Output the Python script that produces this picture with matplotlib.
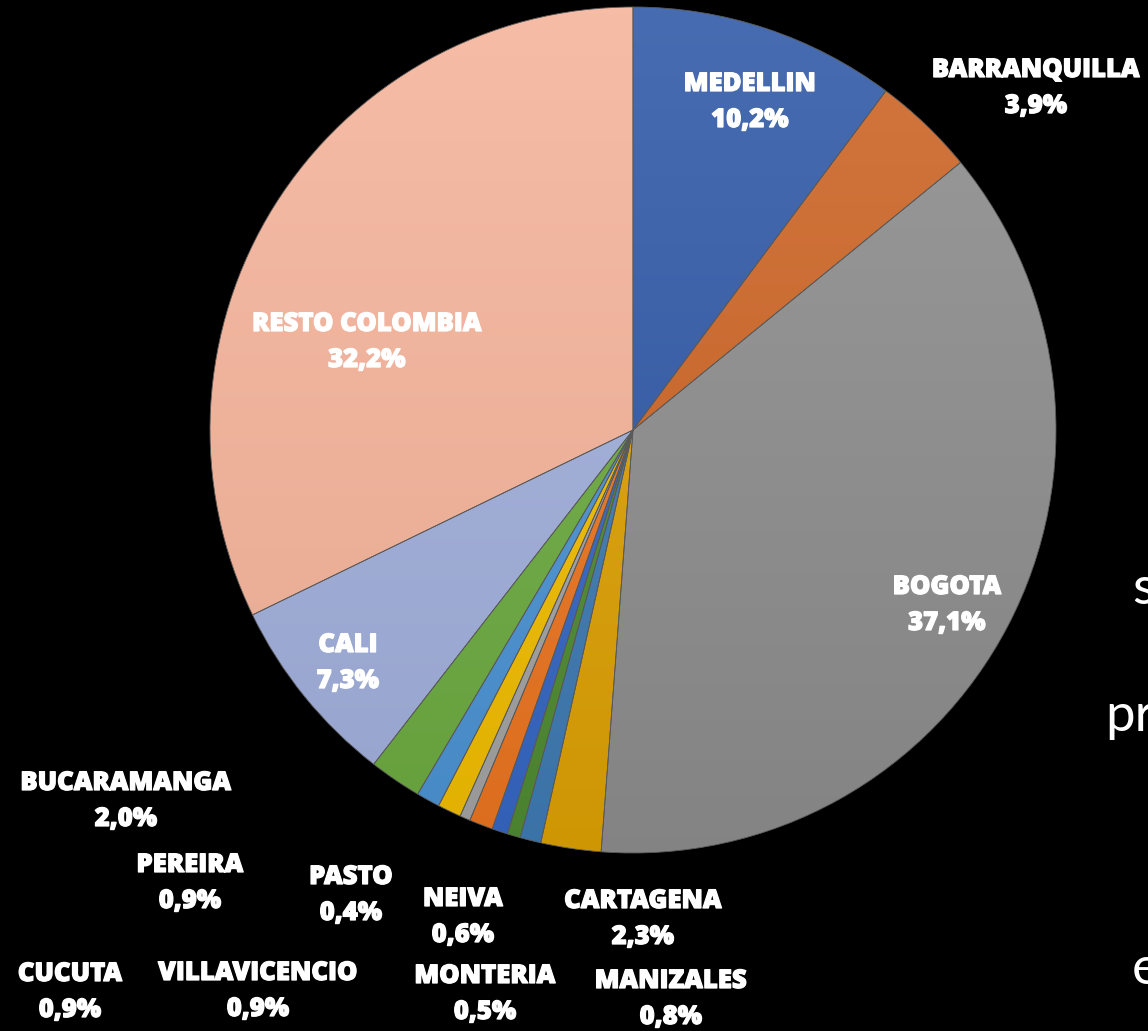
import numpy as np
import matplotlib
matplotlib.use("Agg")
import matplotlib.pyplot as plt
import matplotlib.patheffects as pe
from matplotlib.colors import to_rgb

W, H = 1148, 1031

# slices, clockwise from 12 o'clock
cities = ["MEDELLIN", "BARRANQUILLA", "BOGOTA", "CARTAGENA", "MANIZALES",
          "MONTERIA", "NEIVA", "PEREIRA", "PASTO", "VILLAVICENCIO", "CUCUTA",
          "BUCARAMANGA", "CALI", "RESTO COLOMBIA"]
shares = [10.2, 3.9, 37.1, 2.3, 0.8, 0.5, 0.6, 0.9, 0.4, 0.9, 0.9, 2.0, 7.3, 32.2]
colors = ["#2F58A6", "#CC6424", "#8C8C8C", "#DCA004", "#3E7AB2", "#4E8A32",
          "#3566C2", "#EA7420", "#A2A2A2", "#F0BC00", "#4A92D2", "#6CAA40",
          "#A0AEDA", "#F5B39A"]

# label anchor (pixel centre of the city name line)
label_px = [(750, 84), (1036, 70), (947, 587), (643, 901), (671, 981),
            (485, 976), (463, 899), (190, 865), (351, 877), (258, 973),
            (70, 974), (126, 783), (348, 645), (367, 324)]

plt.rcParams['font.family'] = ['Lato', 'DejaVu Sans']

fig = plt.figure(figsize=(W / 100, H / 100), dpi=100, facecolor='black')
cx, cy, r = 633, 430, 423
ax = fig.add_axes([(cx - r) / W, (H - cy - r) / H, 2 * r / W, 2 * r / H])
ax.set_facecolor('black')

wedges, _ = ax.pie(shares, colors=colors, startangle=90, counterclock=False,
                   radius=1, wedgeprops=dict(edgecolor='#5a5a5a', linewidth=0.6))

# soft vertical gradient inside each slice, like the office chart fill
t = np.linspace(0, 1, 256)[:, None]
for w, c in zip(wedges, colors):
    base = np.array(to_rgb(c))
    top = base + (1 - base) * 0.12
    bot = base * 0.94
    grad = top[None, None, :] * (1 - t[:, :, None]) + bot[None, None, :] * t[:, :, None]
    grad = np.repeat(grad, 2, axis=1)
    im = ax.imshow(grad, extent=[-1, 1, -1, 1], aspect='auto', zorder=w.get_zorder() + 0.1)
    im.set_clip_path(w)
    w.set_zorder(w.get_zorder() + 0.2)
    w.set_facecolor('none')

ax.set_xlim(-1, 1)
ax.set_ylim(-1, 1)
ax.axis('off')

lab = dict(color='white', fontsize=18.5, fontweight=800, ha='center', va='center',
           family=['Open Sans', 'DejaVu Sans'],
           path_effects=[pe.withStroke(linewidth=0.9, foreground='white')])
for name, v, (px, py) in zip(cities, shares, label_px):
    pct = "{:.1f}%".format(v).replace('.', ',')
    fig.text(px / W, 1 - py / H, name, **lab)
    fig.text(px / W, 1 - (py + 36) / H, pct, **lab)

# clipped slide text on the right edge
for s, (px, py) in zip(["s", "pr", "e"], [(1132, 590), (1105, 716), (1132, 970)]):
    fig.text(px / W, 1 - py / H, s, color='white', fontsize=38,
             fontweight='normal', ha='left', va='center')

fig.savefig("out.png", dpi=100, facecolor='black')
